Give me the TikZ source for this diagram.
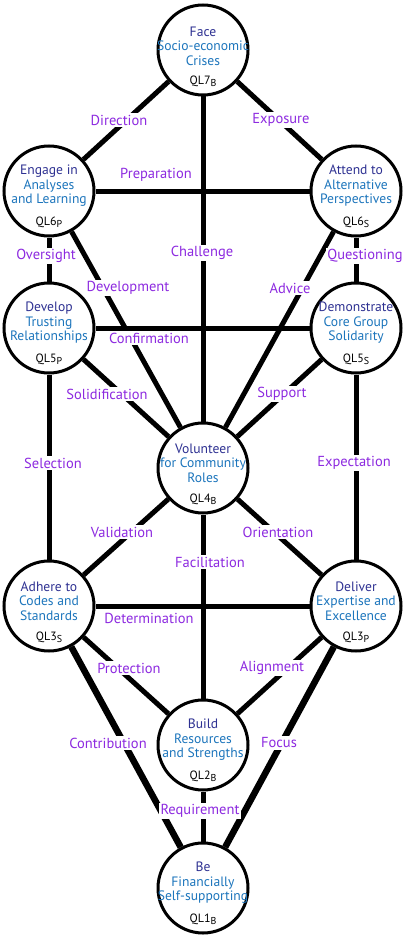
\documentclass[tikz,border=0pt]{standalone}
\usepackage{fontspec}
\setmainfont{PT Sans}
\usepackage{tikz}
\usetikzlibrary{positioning}
\definecolor{TitleBlue}{RGB}{46, 49, 146}
\definecolor{BodyBlue}{RGB}{28, 117, 188}
\definecolor{LinkPurple}{RGB}{141, 42, 224}
\tikzset{
  ql/.style={circle, draw=black, line width=3pt, fill=white, minimum size=90pt, inner sep=0pt},
  qltext/.style={align=center, text=BodyBlue, font=\fontsize{13.6}{14.5}\selectfont, inner sep=0pt},
  qlcode/.style={font=\fontsize{12}{12}\selectfont, inner sep=0pt},
  link/.style={line width=5pt},
  heavylink/.style={line width=6.5pt},
  tag/.style={fill=white, text=LinkPurple, font=\fontsize{14.5}{15}\selectfont, inner sep=1.5pt}
}
\newcommand{\qlid}[2]{QL#1\raisebox{-0.4ex}{\fontsize{10}{10}\selectfont #2}}
\begin{document}
\begin{tikzpicture}[x=1pt, y=-1pt]
\useasboundingbox (0,0) rectangle (406,936);
% circles
\node[ql] (ql7b) at (203,50) {};
\node[ql] (ql6p) at (49,191) {};
\node[ql] (ql6s) at (356,191) {};
\node[ql] (ql5p) at (49,328) {};
\node[ql] (ql5s) at (356,328) {};
\node[ql] (ql4b) at (203,468) {};
\node[ql] (ql3s) at (49,606) {};
\node[ql] (ql3p) at (356,606) {};
\node[ql] (ql2b) at (203,745) {};
\node[ql] (ql1b) at (203,888) {};
% connectors
\draw[link] (ql7b) -- (ql6p);
\draw[link] (ql7b) -- (ql6s);
\draw[link] (ql7b) -- (ql4b);
\draw[link] (ql6p) -- (ql6s);
\draw[link] (ql6p) -- (ql5p);
\draw[link] (ql6s) -- (ql5s);
\draw[link] (ql6p) -- (ql4b);
\draw[link] (ql6s) -- (ql4b);
\draw[link] (ql5p) -- (ql5s);
\draw[link] (ql5p) -- (ql4b);
\draw[link] (ql5s) -- (ql4b);
\draw[link] (ql5p) -- (ql3s);
\draw[link] (ql5s) -- (ql3p);
\draw[link] (ql4b) -- (ql3s);
\draw[link] (ql4b) -- (ql3p);
\draw[link] (ql4b) -- (ql2b);
\draw[link] (ql3s) -- (ql3p);
\draw[link] (ql3s) -- (ql2b);
\draw[link] (ql3p) -- (ql2b);
\draw[heavylink] (ql3s) -- (ql1b);
\draw[heavylink] (ql3p) -- (ql1b);
\draw[link] (ql2b) -- (ql1b);
% link labels
\node[tag] (direction) at (119,120) {Direction};
\node[tag] (exposure) at (281,120) {Exposure};
\node[tag] (preparation) at (156,175) {Preparation};
\node[tag] (oversight) at (46,256) {Oversight};
\node[tag] (challenge) at (202,253) {Challenge};
\node[tag] (questioning) at (365,256) {Questioning};
\node[tag] (development) at (128,288) {Development};
\node[tag] (advice) at (290,288) {Advice};
\node[tag] (confirmation) at (149,338) {Confirmation};
\node[tag] (solidification) at (107,394) {Solidification};
\node[tag] (support) at (282,394) {Support};
\node[tag] (selection) at (53,463) {Selection};
\node[tag] (expectation) at (354,463) {Expectation};
\node[tag] (validation) at (122,532) {Validation};
\node[tag] (facilitation) at (210,562) {Facilitation};
\node[tag] (orientation) at (278,532) {Orientation};
\node[tag] (determination) at (149,618) {Determination};
\node[tag] (protection) at (129,668) {Protection};
\node[tag] (alignment) at (272,668) {Alignment};
\node[tag] (contribution) at (108,743) {Contribution};
\node[tag] (focus) at (279,743) {Focus};
\node[tag] (requirement) at (200,811) {Requirement};
% circle texts
\node[qltext] (t7b) at ([yshift=4pt]ql7b.center) {\textcolor{TitleBlue}{Face}\\Socio-economic\\Crises};
\node[qltext] (t6p) at ([yshift=5pt]ql6p.center) {\textcolor{TitleBlue}{Engage in}\\Analyses\\and Learning};
\node[qltext] (t6s) at ([yshift=5pt]ql6s.center) {\textcolor{TitleBlue}{Attend to}\\Alternative\\Perspectives};
\node[qltext] (t5p) at ([yshift=5pt]ql5p.center) {\textcolor{TitleBlue}{Develop}\\Trusting\\Relationships};
\node[qltext] (t5s) at ([yshift=5pt]ql5s.center) {\textcolor{TitleBlue}{Demonstrate}\\Core Group\\Solidarity};
\node[qltext] (t4b) at ([yshift=5pt]ql4b.center) {\textcolor{TitleBlue}{Volunteer}\\for Community\\Roles};
\node[qltext] (t3s) at ([yshift=5pt]ql3s.center) {\textcolor{TitleBlue}{Adhere to}\\Codes and\\Standards};
\node[qltext] (t3p) at ([yshift=5pt]ql3p.center) {\textcolor{TitleBlue}{Deliver}\\Expertise and\\Excellence};
\node[qltext] (t2b) at ([yshift=5pt]ql2b.center) {\textcolor{TitleBlue}{Build}\\Resources\\and Strengths};
\node[qltext] (t1b) at ([yshift=5pt]ql1b.center) {\textcolor{TitleBlue}{Be}\\Financially\\Self-supporting};
% level codes
\node[qlcode] (c7b) at ([yshift=-31pt]ql7b.center) {\qlid{7}{B}};
\node[qlcode] (c6p) at ([yshift=-31pt]ql6p.center) {\qlid{6}{P}};
\node[qlcode] (c6s) at ([yshift=-31pt]ql6s.center) {\qlid{6}{S}};
\node[qlcode] (c5p) at ([yshift=-31pt]ql5p.center) {\qlid{5}{P}};
\node[qlcode] (c5s) at ([yshift=-31pt]ql5s.center) {\qlid{5}{S}};
\node[qlcode] (c4b) at ([yshift=-31pt]ql4b.center) {\qlid{4}{B}};
\node[qlcode] (c3s) at ([yshift=-31pt]ql3s.center) {\qlid{3}{S}};
\node[qlcode] (c3p) at ([yshift=-31pt]ql3p.center) {\qlid{3}{P}};
\node[qlcode] (c2b) at ([yshift=-31pt]ql2b.center) {\qlid{2}{B}};
\node[qlcode] (c1b) at ([yshift=-31pt]ql1b.center) {\qlid{1}{B}};
\end{tikzpicture}
\end{document}
